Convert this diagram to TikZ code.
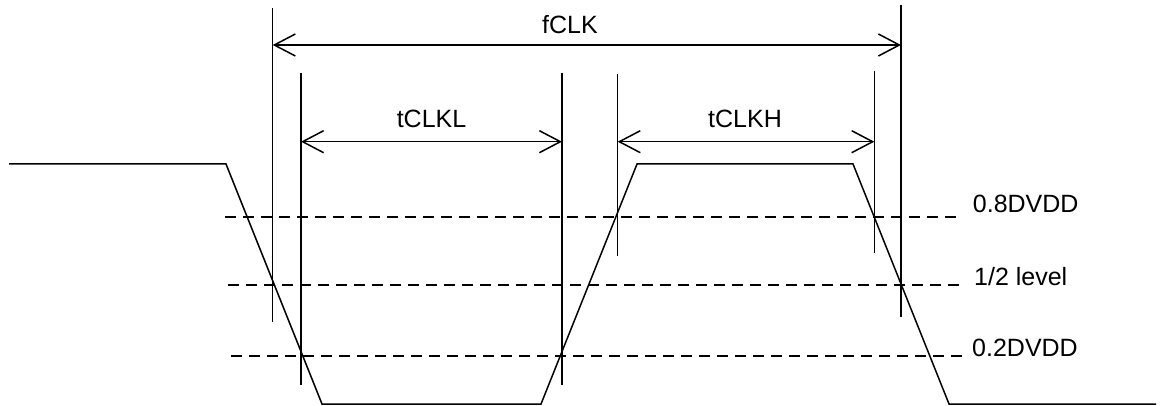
\documentclass[tikz,border=0pt]{standalone}
\usepackage{fontspec}
\setmainfont{Liberation Sans}
\usetikzlibrary{arrows.meta}
\begin{document}
\begin{tikzpicture}[x=1pt,y=-1pt,
  ln/.style={line width=1.5pt,black},
  lvl/.style={line width=1.5pt,black,dash pattern=on 11pt off 7pt},
  dim/.style={line width=1.5pt,black,{Straight Barb[length=21pt,width=22pt]}-{Straight Barb[length=21pt,width=22pt]}},
  lbl/.style={inner sep=0pt,font=\fontsize{25}{30}\selectfont}]
\useasboundingbox (0,0) rectangle (1164,406);
% waveform
\coordinate (w0) at (9,164);
\coordinate (w1) at (226,164);
\coordinate (w2) at (322,404);
\coordinate (w3) at (541,404);
\coordinate (w4) at (637,164);
\coordinate (w5) at (853,164);
\coordinate (w6) at (949,404);
\coordinate (w7) at (1156,404);
\draw[ln,line join=miter] (w0) -- (w1) -- (w2) -- (w3) -- (w4) -- (w5) -- (w6) -- (w7);
% level lines
\coordinate (a0) at (225,217); \coordinate (a1) at (961,217);
\coordinate (b0) at (228,285); \coordinate (b1) at (963,285);
\coordinate (c0) at (231,356); \coordinate (c1) at (966,356);
\draw[lvl] (a0) -- (a1);
\draw[lvl] (b0) -- (b1);
\draw[lvl] (c0) -- (c1);
\node[lbl,anchor=base west] (l8) at (972.7,212.7) {0.8DVDD};
\node[lbl,anchor=base west] (l5) at (974,285) {1/2 level};
\node[lbl,anchor=base west] (l2) at (972,356) {0.2DVDD};
% vertical markers
\coordinate (v1t) at (272.7,8);   \coordinate (v1b) at (272.7,321.7);
\coordinate (v2t) at (301,72.7);  \coordinate (v2b) at (301,385);
\coordinate (v3t) at (562,72.7);  \coordinate (v3b) at (562,385);
\coordinate (v4t) at (617.7,74);  \coordinate (v4b) at (617.7,256);
\coordinate (v5t) at (874.3,70.7);\coordinate (v5b) at (874.3,253);
\coordinate (v6t) at (901,5);     \coordinate (v6b) at (901,316.7);
\foreach \v in {1,...,6} \draw[ln] (v\v t) -- (v\v b);
% dimension arrows
\coordinate (f0) at (272.7,45); \coordinate (f1) at (901,45);
\coordinate (p0) at (301,141.7); \coordinate (p1) at (562,141.7);
\coordinate (q0) at (617.7,141.7); \coordinate (q1) at (874.3,141.7);
\draw[dim] (f0) -- (f1);
\draw[dim] (p0) -- (p1);
\draw[dim] (q0) -- (q1);
\node[lbl,anchor=base] (fclk) at (570,33.3) {fCLK};
\node[lbl,anchor=base] (tl) at (431.5,128) {tCLKL};
\node[lbl,anchor=base] (th) at (745,128) {tCLKH};
\end{tikzpicture}
\end{document}
